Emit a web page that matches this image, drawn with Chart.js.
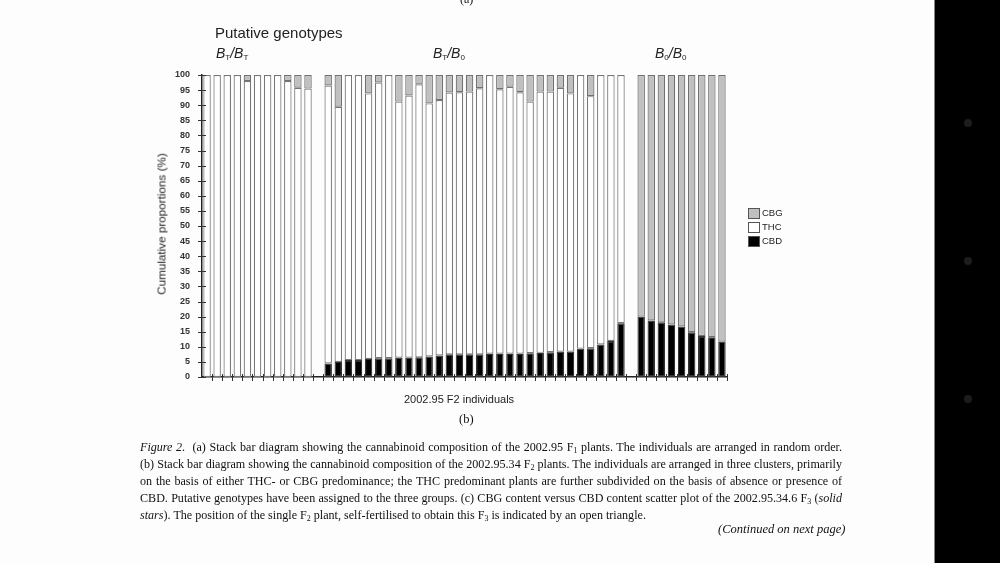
<!DOCTYPE html>
<html>
<head>
<meta charset="utf-8">
<script src="https://cdn.jsdelivr.net/npm/chart.js@4.4.1/dist/chart.umd.min.js"></script>
<style>
  html, body { margin: 0; padding: 0; background: #fdfdfd; }
  body { width: 1000px; height: 563px; position: relative; overflow: hidden; }
  #wrap { position: absolute; left: 0; top: 0; width: 1000px; height: 563px; }
  .sans { font-family: "Liberation Sans", Arial, sans-serif; color: #222; position: absolute; white-space: nowrap; }
  .serif { font-family: "Liberation Serif", "Times New Roman", serif; color: #111; position: absolute; white-space: nowrap; }
  .geno { font-size: 14px; font-style: italic; }
  .geno sub { font-size: 8px; font-style: normal; vertical-align: -2px; }
  .cap { left: 140px; width: 702px; font-size: 12.1px; line-height: 15px; text-align: justify; text-align-last: justify; white-space: normal; }
  .cap sub, .capl sub { font-size: 8px; vertical-align: -2px; line-height: 0; }
  .capl { font-size: 12.1px; line-height: 15px; }
  .leg { position: absolute; left: 748px; width: 10px; height: 9px; border: 1px solid #555; }
  .legt { font-size: 9.5px; left: 762px; }
  #strip { position: absolute; left: 934px; top: 0; width: 66px; height: 563px; background: #000; border-left: 1px solid #888; }
  .dot { position: absolute; left: 29px; width: 8px; height: 8px; border-radius: 50%; background: #1c1c1c; }
</style>
</head>
<body>
<div id="wrap"><canvas id="chart" width="1000" height="563"></canvas></div>

<div class="serif" style="left:460px; top:-8px; font-size:12px;">(a)</div>
<div class="sans" style="left:215px; top:24px; font-size:15px;">Putative genotypes</div>
<div class="sans geno" style="left:216px; top:45px;">B<sub>T</sub>/B<sub>T</sub></div>
<div class="sans geno" style="left:433px; top:45px;">B<sub>T</sub>/B<sub>0</sub></div>
<div class="sans geno" style="left:655px; top:45px;">B<sub>0</sub>/B<sub>0</sub></div>

<div class="sans" style="left:161px; top:224px; font-size:11.7px; transform: translate(-50%, -50%) rotate(-90deg);">Cumulative proportions (%)</div>
<div class="sans" style="left:404px; top:393px; font-size:11px;">2002.95 F2 individuals</div>
<div class="serif" style="left:459px; top:412px; font-size:12.5px;">(b)</div>

<div class="leg" style="top:208px; background:#c0c0c0;"></div>
<div class="sans legt" style="top:207px;">CBG</div>
<div class="leg" style="top:222px; background:#fff;"></div>
<div class="sans legt" style="top:221px;">THC</div>
<div class="leg" style="top:236px; background:#000;"></div>
<div class="sans legt" style="top:235px;">CBD</div>

<div class="serif cap" style="top:440px;"><i>Figure 2.</i>&nbsp; (a) Stack bar diagram showing the cannabinoid composition of the 2002.95 F<sub>1</sub> plants. The individuals are arranged in random order.</div>
<div class="serif cap" style="top:457px;">(b) Stack bar diagram showing the cannabinoid composition of the 2002.95.34 F<sub>2</sub> plants. The individuals are arranged in three clusters, primarily</div>
<div class="serif cap" style="top:474px;">on the basis of either THC- or CBG predominance; the THC predominant plants are further subdivided on the basis of absence or presence of</div>
<div class="serif cap" style="top:491px;">CBD. Putative genotypes have been assigned to the three groups. (c) CBG content versus CBD content scatter plot of the 2002.95.34.6 F<sub>3</sub> (<i>solid</i></div>
<div class="serif capl" style="left:140px; top:508px;"><i>stars</i>). The position of the single F<sub>2</sub> plant, self-fertilised to obtain this F<sub>3</sub> is indicated by an open triangle.</div>
<div class="serif capl" style="left:718px; top:522px; font-size:12.5px;"><i>(Continued on next page)</i></div>

<div id="strip">
  <div class="dot" style="top:119px;"></div>
  <div class="dot" style="top:257px;"></div>
  <div class="dot" style="top:395px;"></div>
</div>

<script>
// F2 individuals: 11 BT/BT, gap, 30 BT/B0, gap, 9 B0/B0
const individuals = Array.from({ length: 52 }, (_, i) => 'P' + (i + 1));

const cbd = [
  0, 0, 0, 0, 0, 0, 0, 0, 0, 0, 0,
  null,
  4.5, 5.0, 5.6, 5.6, 6.0, 6.2, 6.2, 6.4, 6.4, 6.5,
  6.8, 7.1, 7.5, 7.5, 7.5, 7.5, 7.7, 7.7, 7.7, 7.7,
  7.9, 8.0, 8.2, 8.4, 8.4, 9.4, 9.5, 10.8, 11.9, 17.8,
  null,
  20.0, 18.7, 18.1, 17.4, 16.7, 14.8, 13.6, 13.2, 11.7
];

const thc = [
  100, 100, 100, 100, 98, 100, 100, 100, 98, 95.8, 95.5,
  null,
  92.0, 84.5, 94.4, 94.4, 87.9, 91.3, 93.8, 84.8, 86.8, 90.4,
  83.8, 84.6, 86.7, 86.8, 87.0, 88.1, 92.3, 87.6, 88.4, 86.6,
  83.3, 86.5, 86.3, 87.4, 85.5, 90.6, 83.5, 89.2, 88.1, 82.2,
  null,
  0, 0, 0, 0, 0, 0, 0, 0, 0
];

const cbg = [
  0, 0, 0, 0, 2, 0, 0, 0, 2, 4.2, 4.5,
  null,
  3.5, 10.5, 0, 0, 6.1, 2.5, 0, 8.8, 6.8, 3.1,
  9.4, 8.3, 5.8, 5.7, 5.5, 4.4, 0, 4.7, 3.9, 5.7,
  8.8, 5.5, 5.5, 4.2, 6.1, 0, 7.0, 0, 0, 0,
  null,
  80.0, 81.3, 81.9, 82.6, 83.3, 85.2, 86.4, 86.8, 88.3
];

// tick marks crossing both axes
const crossTicks = {
  id: 'crossTicks',
  afterDraw(chart) {
    const ctx = chart.ctx;
    const xs = chart.scales.x, ys = chart.scales.y;
    ctx.save();
    ctx.strokeStyle = '#333';
    ctx.lineWidth = 1;
    ys.ticks.forEach(t => {
      const y = Math.round(ys.getPixelForValue(t.value)) + 0.5;
      ctx.beginPath();
      ctx.moveTo(xs.left - 4, y);
      ctx.lineTo(xs.left + 4, y);
      ctx.stroke();
    });
    const step = xs.getPixelForValue(1) - xs.getPixelForValue(0);
    for (let i = 1; i <= individuals.length; i++) {
      const x = Math.round(xs.getPixelForValue(i) - step / 2) + 0.5;
      ctx.beginPath();
      ctx.moveTo(x, ys.bottom - 3);
      ctx.lineTo(x, ys.bottom + 4);
      ctx.stroke();
    }
    ctx.restore();
  }
};

const barStyle = {
  borderWidth: 1.2,
  borderSkipped: false,
  barPercentage: 0.74,
  categoryPercentage: 1.0
};

new Chart(document.getElementById('chart'), {
  type: 'bar',
  data: {
    labels: individuals,
    datasets: [
      Object.assign({ label: 'CBD', data: cbd, backgroundColor: '#000', borderColor: '#333' }, barStyle),
      Object.assign({ label: 'THC', data: thc, backgroundColor: '#fff', borderColor: '#777' }, barStyle),
      Object.assign({ label: 'CBG', data: cbg, backgroundColor: '#c0c0c0', borderColor: '#707070' }, barStyle)
    ]
  },
  options: {
    responsive: false,
    animation: false,
    layout: { padding: { left: 162, top: 75, right: 273, bottom: 186 } },
    plugins: { legend: { display: false }, tooltip: { enabled: false } },
    scales: {
      x: {
        stacked: true,
        grid: { display: false, drawTicks: false },
        ticks: { display: false },
        border: { color: '#222', width: 1.5 },
        afterFit: s => { s.height = 0; }
      },
      y: {
        stacked: true,
        min: 0,
        max: 100,
        grid: { display: false, drawTicks: false },
        border: { color: '#222', width: 1.5 },
        ticks: {
          stepSize: 5,
          padding: 12,
          color: '#333',
          font: { family: 'Liberation Sans', size: 9, weight: 'bold' }
        },
        afterFit: s => { s.width = 40; }
      }
    }
  },
  plugins: [crossTicks]
});
</script>
</body>
</html>
